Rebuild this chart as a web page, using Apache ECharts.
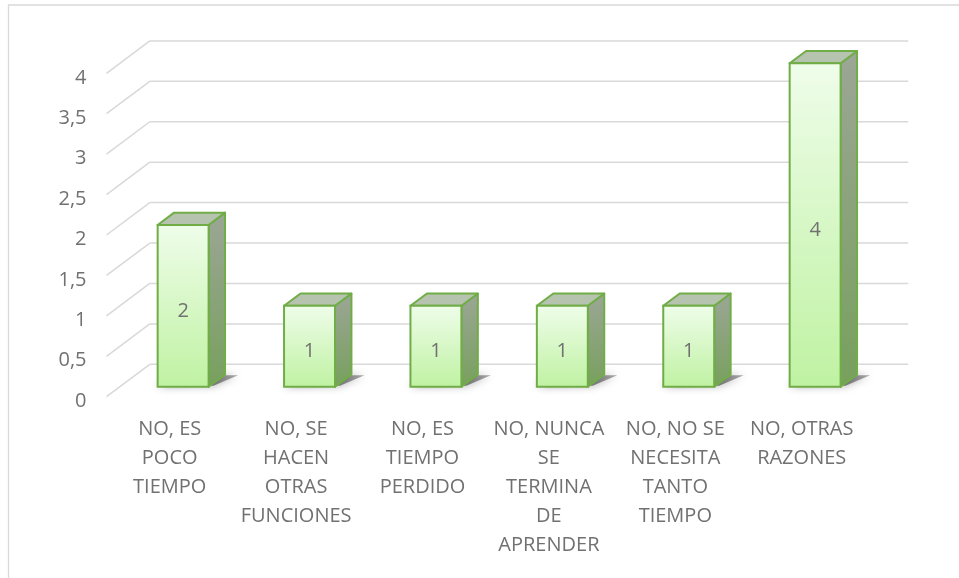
<!DOCTYPE html>
<html>
<head>
<meta charset="utf-8">
<script src="https://cdn.jsdelivr.net/npm/echarts@6/dist/echarts.min.js"></script>
<style>
  html, body { margin: 0; padding: 0; background: #ffffff; }
  #chart { width: 959px; height: 578px; }
</style>
</head>
<body>
<div id="chart"></div>
<script>
// Categories (wrapped as they appear under the axis)
const categories = [
  'NO, ES\nPOCO\nTIEMPO',
  'NO, SE\nHACEN\nOTRAS\nFUNCIONES',
  'NO, ES\nTIEMPO\nPERDIDO',
  'NO, NUNCA\nSE\nTERMINA\nDE\nAPRENDER',
  'NO, NO SE\nNECESITA\nTANTO\nTIEMPO',
  'NO, OTRAS\nRAZONES'
];
const values = [2, 1, 1, 1, 1, 4];
const yTicks = [0, 0.5, 1, 1.5, 2, 2.5, 3, 3.5, 4];

// Oblique depth of the 3D box (front plane -> back wall), in pixels
const DEPTH_X = 43.3, DEPTH_Y = -32.4;
const BAR_FRONT = 0.31, BAR_BACK = 0.69;   // bar position inside the depth
const BAR_RATIO = 0.403;                   // bar width / category width

const TEXT_COLOR = '#717171';
const FONT = '"Open Sans", sans-serif';

const chart = echarts.init(document.getElementById('chart'), null, { renderer: 'canvas' });

function wallItem(params, api) {
  const cs = params.coordSys;
  const v = api.value(0);
  const p = api.coord([0, v]);
  const y = p[1];
  const xl = cs.x, xr = cs.x + cs.width;
  const style = { stroke: '#d9d9d9', lineWidth: 1.5, fill: null };
  return {
    type: 'group',
    children: [
      { type: 'line', shape: { x1: xl, y1: y, x2: xl + DEPTH_X, y2: y + DEPTH_Y }, style },
      { type: 'line', shape: { x1: xl + DEPTH_X, y1: y + DEPTH_Y, x2: xr + DEPTH_X, y2: y + DEPTH_Y }, style }
    ]
  };
}

function barItem(params, api) {
  const idx = api.value(0);
  const v = api.value(1);
  const base = api.coord([idx, 0]);
  const top = api.coord([idx, v]);
  const cw = api.size([1, 0])[0];
  const w = cw * BAR_RATIO;
  const ox = DEPTH_X * BAR_FRONT, oy = DEPTH_Y * BAR_FRONT;
  const dx = DEPTH_X * (BAR_BACK - BAR_FRONT), dy = DEPTH_Y * (BAR_BACK - BAR_FRONT);
  const x0 = base[0] + ox - w / 2, x1 = x0 + w;
  const yb = base[1] + oy, yt = top[1] + oy;
  const edge = '#70ad47';

  return {
    type: 'group',
    children: [
      // soft shadow under the base, cast towards the right
      {
        type: 'polygon',
        shape: { points: [[x0 - 1, yb - 1], [x1 + 5, yb - 1], [x1 + dx + 13, yb + dy + 1], [x0 + dx + 4, yb + dy + 1]] },
        style: {
          fill: new echarts.graphic.LinearGradient(0, 0, 1, 0, [
            { offset: 0, color: 'rgba(30,30,30,0.9)' }, { offset: 1, color: 'rgba(70,70,70,0.45)' }
          ]),
          shadowBlur: 8, shadowColor: 'rgba(0,0,0,0.55)'
        }
      },
      // side face
      {
        type: 'polygon',
        shape: { points: [[x1, yt], [x1 + dx, yt + dy], [x1 + dx, yb + dy], [x1, yb]] },
        style: {
          fill: new echarts.graphic.LinearGradient(0, 0, 0, 1, [
            { offset: 0, color: '#9ca696' }, { offset: 1, color: '#77a05d' }
          ]),
          stroke: edge, lineWidth: 2, lineJoin: 'round'
        }
      },
      // top face
      {
        type: 'polygon',
        shape: { points: [[x0, yt], [x1, yt], [x1 + dx, yt + dy], [x0 + dx, yt + dy]] },
        style: { fill: '#b6c3ae', stroke: edge, lineWidth: 2, lineJoin: 'round' }
      },
      // front face
      {
        type: 'rect',
        shape: { x: x0, y: yt, width: w, height: yb - yt },
        style: {
          fill: new echarts.graphic.LinearGradient(0, 0, 0, 1, [
            { offset: 0, color: '#effdea' }, { offset: 1, color: '#bff2a2' }
          ]),
          stroke: edge, lineWidth: 2
        }
      },
      // value label
      {
        type: 'text',
        style: {
          text: String(v), x: (x0 + x1) / 2, y: (yt + yb) / 2 + 5,
          align: 'center', verticalAlign: 'middle',
          fill: TEXT_COLOR, font: '20px ' + FONT
        }
      }
    ]
  };
}

chart.setOption({
  animation: false,
  backgroundColor: '#ffffff',
  graphic: [{
    type: 'rect',
    shape: { x: 8.5, y: 5, width: 1000, height: 600 },
    style: { fill: null, stroke: '#d9d9d9', lineWidth: 1.3 },
    silent: true, z: -10
  }],
  grid: { left: 106.5, right: 94.1, top: 73.3, bottom: 181.3, containLabel: false },
  xAxis: {
    type: 'category',
    data: categories,
    axisLine: { show: false },
    axisTick: { show: false },
    splitLine: { show: false },
    axisLabel: {
      interval: 0, margin: 18,
      color: TEXT_COLOR, fontFamily: FONT, fontSize: 20, lineHeight: 29,
      align: 'center'
    }
  },
  yAxis: {
    type: 'value',
    min: 0, max: 4, interval: 0.5,
    axisLine: { show: false },
    axisTick: { show: false },
    splitLine: { show: false },
    axisLabel: {
      margin: 20,
      color: TEXT_COLOR, fontFamily: FONT, fontSize: 20,
      formatter: v => '{t|' + String(v).replace('.', ',') + '}',
      rich: {
        t: { color: TEXT_COLOR, fontFamily: FONT, fontSize: 20, padding: [9, 0, 0, 0] }
      }
    }
  },
  series: [
    {
      type: 'custom',
      name: 'walls',
      coordinateSystem: 'cartesian2d',
      renderItem: wallItem,
      data: yTicks.map(t => [t]),
      encode: { y: 0 },
      silent: true,
      z: 1
    },
    {
      type: 'custom',
      name: 'valores',
      coordinateSystem: 'cartesian2d',
      renderItem: barItem,
      data: values.map((v, i) => [i, v]),
      encode: { x: 0, y: 1 },
      z: 2
    }
  ]
});
</script>
</body>
</html>
